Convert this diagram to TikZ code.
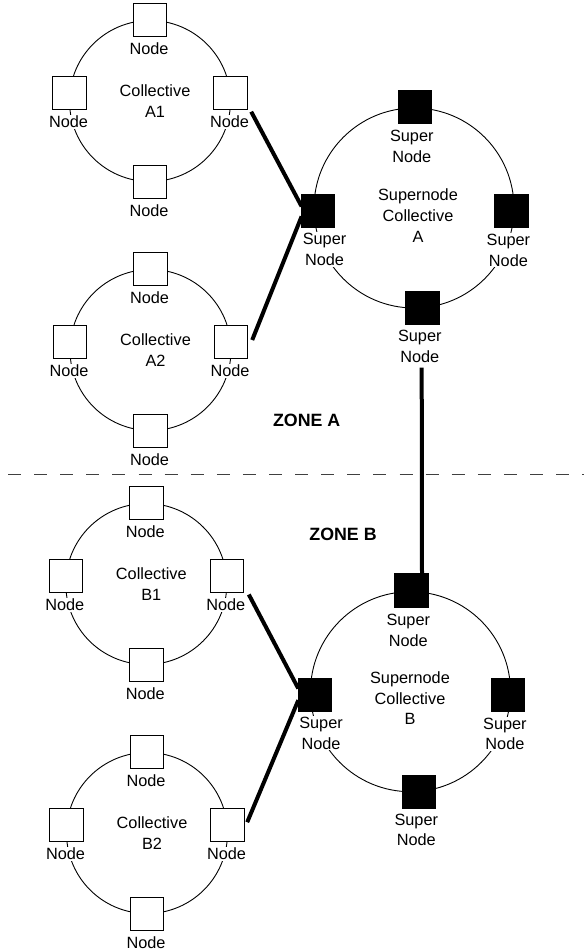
\documentclass[tikz,border=0pt]{standalone}
\usepackage{fontspec}
\setmainfont{Liberation Sans}
\begin{document}
\begin{tikzpicture}[x=1pt,y=-1pt,
  every node/.style={font=\fontsize{16.3}{20.7}\selectfont},
  ring/.style={draw=black,line width=0.9pt},
  nbox/.style={draw=black,fill=white,line width=0.9pt,minimum size=33.3pt,inner sep=0pt},
  sbox/.style={draw=black,fill=black,line width=0.9pt,minimum size=33.3pt,inner sep=0pt},
  lbl/.style={fill=white,inner sep=1pt,align=center},
  txt/.style={inner sep=0pt,align=center},
  zone/.style={font=\fontsize{17.8}{20}\selectfont\bfseries,inner sep=0pt},
  link/.style={line width=4pt},
  divider/.style={line width=0.8pt,draw=black!75,dash pattern=on 13pt off 13.1pt}]
\useasboundingbox (0,0) rectangle (584,951);
\newcommand\mkcoll[5]{%
  \draw[ring] (#2,#3) circle[radius=80.5];
  \node[txt] (#1c) at (#2+5,#3) {#4\\#5};
  \node[lbl] (#1tl) at (#2-1,#3-81+29) {Node};
  \node[lbl] (#1ll) at (#2-80.5-1,#3-8+29) {Node};
  \node[lbl] (#1rl) at (#2+80.5-1,#3-8+29) {Node};
  \node[lbl] (#1bl) at (#2-1,#3+81+28.5) {Node};
  \node[nbox] (#1t) at (#2,#3-81) {};
  \node[nbox] (#1l) at (#2-80.5,#3-8) {};
  \node[nbox] (#1r) at (#2+80.5,#3-8) {};
  \node[nbox] (#1b) at (#2,#3+81) {};
}
\newcommand\mksuper[6]{%
  \draw[ring] (#2,#3) circle[radius=100];
  \node[txt] (#1c) at (#2+#5,#3+#6) {Supernode\\Collective\\#4};
  \node[lbl] (#1tl) at (#2+0.8-3,#3-101.2+39.8) {Super\\Node};
  \node[lbl] (#1ll) at (#2-95.8+6.3,#3+3+38.5) {Super\\Node};
  \node[lbl] (#1rl) at (#2+97.4-3,#3+3.2+39) {Super\\Node};
  \node[lbl] (#1bl) at (#2+8.3-2.5,#3+100+38.3) {Super\\Node};
  \node[sbox] (#1t) at (#2+0.8,#3-101.2) {};
  \node[sbox] (#1l) at (#2-95.8,#3+3) {};
  \node[sbox] (#1r) at (#2+97.4,#3+3.2) {};
  \node[sbox] (#1b) at (#2+8.3,#3+100) {};
}
% dashed zone divider
\coordinate (dl) at (8,474.5);
\coordinate (dr) at (584,474.5);
\draw[divider] (dl) -- (dr);
% collectives
\mkcoll{aa}{150}{101}{Collective}{A1}
\mkcoll{ab}{150.5}{350}{Collective}{A2}
\mkcoll{ba}{146.3}{584}{Collective}{B1}
\mkcoll{bb}{147}{833}{Collective}{B2}
\mksuper{sa}{414}{208}{A}{4}{7.7}
\mksuper{sb}{410.5}{691.7}{B}{-0.5}{6.6}
% zone labels
\node[zone] (za) at (306.7,420) {ZONE A};
\node[zone] (zb) at (343,534) {ZONE B};
% links
\draw[link] ([shift={(20.7,18.7)}]aar.center) -- ([shift={(-16.6,-4.6)}]sal.center);
\draw[link] ([shift={(-16.6,5.4)}]sal.center) -- ([shift={(21.2,-2)}]abr.center);
\draw[link] ([shift={(22,18.5)}]bar.center) -- ([shift={(-16.4,-6.2)}]sbl.center);
\draw[link] ([shift={(-16.4,5.5)}]sbl.center) -- ([shift={(19.7,-2.8)}]bbr.center);
\draw[link] ([shift={(-0.6,59.7)}]sab.center) -- ([shift={(10.7,0)}]sbt.north);
\end{tikzpicture}
\end{document}
